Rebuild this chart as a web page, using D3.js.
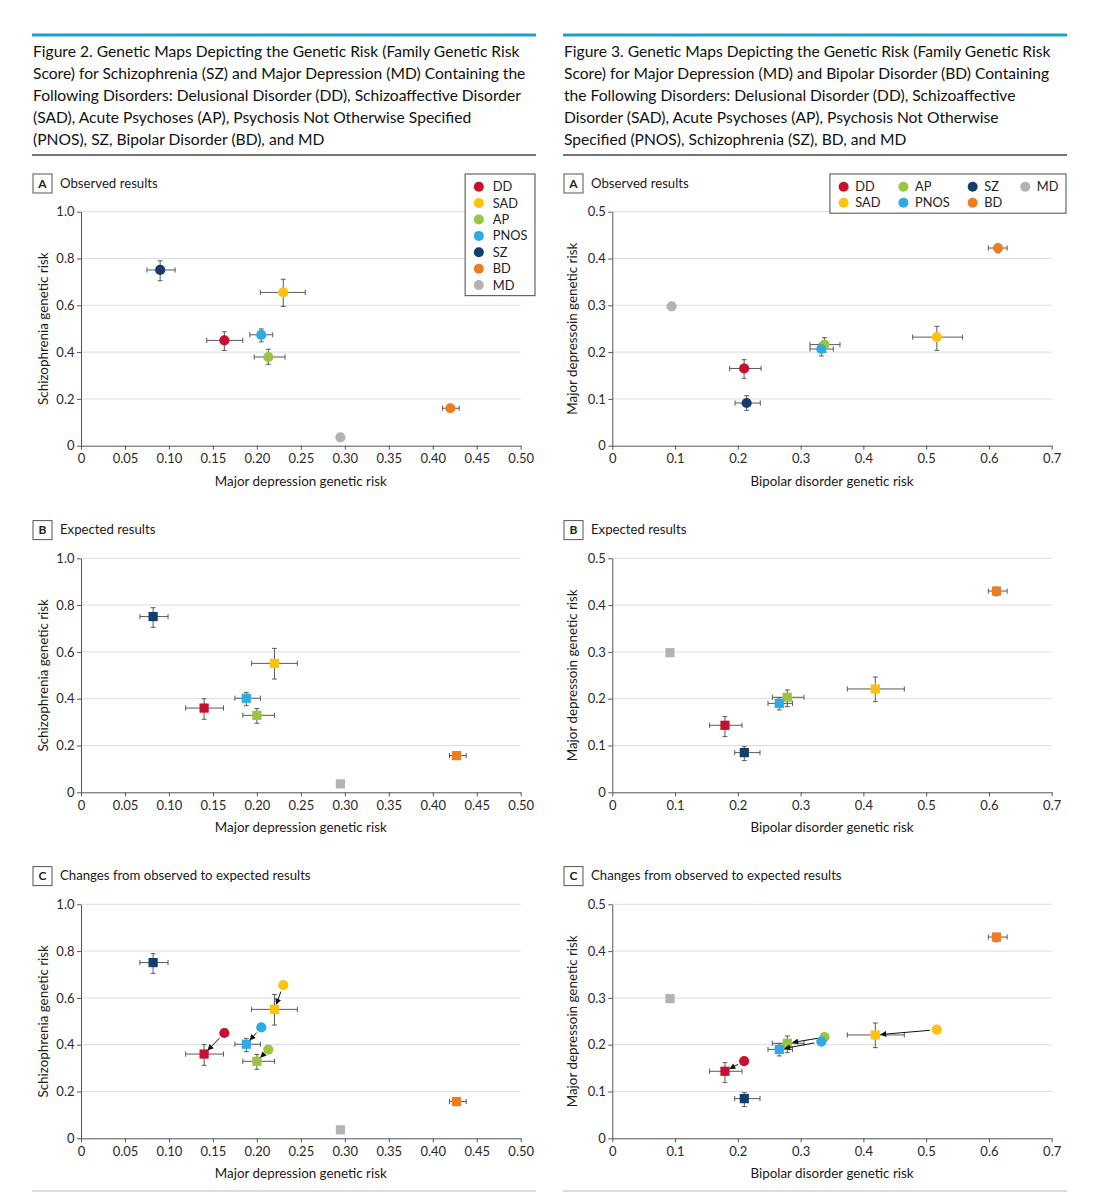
<!DOCTYPE html>
<html>
<head>
<meta charset="utf-8">
<script src="https://cdn.jsdelivr.net/npm/d3@7"></script>
<style>
  body { margin: 0; background: #fff; }
  text { font-family: Lato, "Noto Sans", sans-serif; }
</style>
</head>
<body>
<svg id="chart" width="1101" height="1200"></svg>
<script>
// values
const disorders = ["DD", "SAD", "AP", "PNOS", "SZ", "BD", "MD"]
const disorderColors = ["#c8102e", "#fdc20f", "#9bc440", "#2eabe2", "#123d6d", "#ee7d22", "#b5b3b0"]
const movedDisorders = ["DD", "SAD", "AP", "PNOS"]

// Figure 2: x = major depression genetic risk, y = schizophrenia genetic risk
const fig2ObsX = [0.163, 0.230, 0.213, 0.205, 0.090, 0.420, 0.295]
const fig2ObsY = [0.450, 0.655, 0.379, 0.474, 0.751, 0.160, 0.036]
const fig2ObsXLow = [0.143, 0.204, 0.197, 0.192, 0.075, 0.411, null]
const fig2ObsXHigh = [0.184, 0.255, 0.232, 0.218, 0.107, 0.430, null]
const fig2ObsYLow = [0.407, 0.595, 0.348, 0.444, 0.705, null, null]
const fig2ObsYHigh = [0.487, 0.711, 0.412, 0.499, 0.790, null, null]

const fig2ExpX = [0.140, 0.220, 0.200, 0.188, 0.082, 0.427, 0.295]
const fig2ExpY = [0.360, 0.551, 0.329, 0.402, 0.751, 0.157, 0.036]
const fig2ExpXLow = [0.119, 0.194, 0.184, 0.175, 0.067, 0.419, null]
const fig2ExpXHigh = [0.162, 0.246, 0.220, 0.204, 0.099, 0.438, null]
const fig2ExpYLow = [0.312, 0.484, 0.295, 0.370, 0.705, null, null]
const fig2ExpYHigh = [0.400, 0.615, 0.358, 0.427, 0.789, null, null]

const fig2XTicks = [0, 0.05, 0.10, 0.15, 0.20, 0.25, 0.30, 0.35, 0.40, 0.45, 0.50]
const fig2YTicks = [0, 0.2, 0.4, 0.6, 0.8, 1.0]

// Figure 3: x = bipolar disorder genetic risk, y = major depression genetic risk
const fig3ObsX = [0.210, 0.517, 0.338, 0.333, 0.214, 0.6145, 0.0945]
const fig3ObsY = [0.165, 0.232, 0.216, 0.2066, 0.0912, 0.4224, 0.2977]
const fig3ObsXLow = [0.187, 0.4785, 0.315, 0.315, 0.1955, 0.599, null]
const fig3ObsXHigh = [0.237, 0.558, 0.3627, 0.352, 0.2358, 0.629, null]
const fig3ObsYLow = [0.144, 0.2037, 0.200, 0.1916, 0.0755, 0.412, null]
const fig3ObsYHigh = [0.1838, 0.255, 0.2308, 0.219, 0.1068, 0.430, null]

const fig3ExpX = [0.1795, 0.419, 0.2788, 0.266, 0.2103, 0.612, 0.0919]
const fig3ExpY = [0.1432, 0.2208, 0.203, 0.190, 0.0848, 0.430, 0.2984]
const fig3ExpXLow = [0.155, 0.3744, 0.255, 0.248, 0.195, 0.599, null]
const fig3ExpXHigh = [0.2066, 0.4652, 0.3054, 0.287, 0.2353, 0.629, null]
const fig3ExpYLow = [0.119, 0.1937, 0.183, 0.176, 0.0677, 0.420, null]
const fig3ExpYHigh = [0.1617, 0.2464, 0.2187, 0.2023, 0.0976, 0.438, null]

const fig3XTicks = [0, 0.1, 0.2, 0.3, 0.4, 0.5, 0.6, 0.7]
const fig3YTicks = [0, 0.1, 0.2, 0.3, 0.4, 0.5]

const fig2Heading = [
    "Figure 2. Genetic Maps Depicting the Genetic Risk (Family Genetic Risk",
    "Score) for Schizophrenia (SZ) and Major Depression (MD) Containing the",
    "Following Disorders: Delusional Disorder (DD), Schizoaffective Disorder",
    "(SAD), Acute Psychoses (AP), Psychosis Not Otherwise Specified",
    "(PNOS), SZ, Bipolar Disorder (BD), and MD"
]
const fig3Heading = [
    "Figure 3. Genetic Maps Depicting the Genetic Risk (Family Genetic Risk",
    "Score) for Major Depression (MD) and Bipolar Disorder (BD) Containing",
    "the Following Disorders: Delusional Disorder (DD), Schizoaffective",
    "Disorder (SAD), Acute Psychoses (AP), Psychosis Not Otherwise",
    "Specified (PNOS), Schizophrenia (SZ), BD, and MD"
]
const panelLetters = ["A", "B", "C"]
const panelTitles = ["Observed results", "Expected results", "Changes from observed to expected results"]

function rows(xs, ys, xLow, xHigh, yLow, yHigh) {
    return disorders.map(function (name, i) {
        return { name: name, color: disorderColors[i], x: xs[i], y: ys[i], xLow: xLow[i], xHigh: xHigh[i], yLow: yLow[i], yHigh: yHigh[i] }
    })
}

const zeroOr = f => d => d === 0 ? "0" : d3.format(f)(d)

const figures = [
    {
        left: 32, right: 536, plotLeft: 81, plotRight: 520.7, yTitleX: 43.5,
        heading: fig2Heading,
        xDomain: [0, 0.5], yDomain: [0, 1], xTicks: fig2XTicks, yTicks: fig2YTicks,
        xFormat: zeroOr(".2f"), yFormat: zeroOr(".1f"),
        xTitle: "Major depression genetic risk", yTitle: "Schizophrenia genetic risk",
        legendRows: 7,
        obs: rows(fig2ObsX, fig2ObsY, fig2ObsXLow, fig2ObsXHigh, fig2ObsYLow, fig2ObsYHigh),
        exp: rows(fig2ExpX, fig2ExpY, fig2ExpXLow, fig2ExpXHigh, fig2ExpYLow, fig2ExpYHigh)
    },
    {
        left: 563, right: 1067, plotLeft: 612.3, plotRight: 1051.7, yTitleX: 572,
        heading: fig3Heading,
        xDomain: [0, 0.7], yDomain: [0, 0.5], xTicks: fig3XTicks, yTicks: fig3YTicks,
        xFormat: zeroOr(".1f"), yFormat: zeroOr(".1f"),
        xTitle: "Bipolar disorder genetic risk", yTitle: "Major depressoin genetic risk",
        legendRows: 2,
        obs: rows(fig3ObsX, fig3ObsY, fig3ObsXLow, fig3ObsXHigh, fig3ObsYLow, fig3ObsYHigh),
        exp: rows(fig3ExpX, fig3ExpY, fig3ExpXLow, fig3ExpXHigh, fig3ExpYLow, fig3ExpYHigh)
    }
]

const svg = d3.select("#chart")
const panelTops = [211.7, 558.3, 904.3]
const plotHeight = 234

svg.append("defs").append("marker")
    .attr("id", "arrowHead")
    .attr("viewBox", "0 0 10 10")
    .attr("refX", 9).attr("refY", 5)
    .attr("markerWidth", 7).attr("markerHeight", 6)
    .attr("markerUnits", "userSpaceOnUse")
    .attr("orient", "auto")
    .append("path")
    .attr("d", "M0,0L10,5L0,10z")
    .attr("fill", "#111")

// heading font size: fit the first line to the width it has in the print
var probe = svg.append("text").style("font-size", "16px").text(fig2Heading[0])
var headingSize = 16 * 487 / probe.node().getComputedTextLength()
probe.remove()

function drawHeading(fig) {
    svg.append("rect")
        .attr("x", fig.left).attr("y", 33.5)
        .attr("width", fig.right - fig.left).attr("height", 3)
        .attr("fill", "#1c9dd3")
    svg.append("g").selectAll("text")
        .data(fig.heading).enter().append("text")
        .attr("x", fig.left + 1)
        .attr("y", (d, i) => 56.5 + i * 22)
        .style("font-size", headingSize + "px")
        .style("fill", "#111")
        .text(d => d)
    svg.append("line")
        .attr("x1", fig.left).attr("x2", fig.right)
        .attr("y1", 155).attr("y2", 155)
        .style("stroke", "#444").style("stroke-width", 1.5)
    svg.append("line")
        .attr("x1", fig.left).attr("x2", fig.right)
        .attr("y1", 1191).attr("y2", 1191)
        .style("stroke", "#b8b8b8").style("stroke-width", 1)
}

function errorBars(g, pts, x, y) {
    g.selectAll("xerr")
        .data(pts.filter(d => d.xLow != null)).enter()
        .append("path")
        .attr("d", d => "M" + x(d.xLow) + "," + y(d.y) + "H" + x(d.xHigh)
            + "M" + x(d.xLow) + "," + (y(d.y) - 2.6) + "v5.2"
            + "M" + x(d.xHigh) + "," + (y(d.y) - 2.6) + "v5.2")
        .style("stroke", "#5a5a5a").style("stroke-width", 1).style("fill", "none")
    g.selectAll("yerr")
        .data(pts.filter(d => d.yLow != null)).enter()
        .append("path")
        .attr("d", d => "M" + x(d.x) + "," + y(d.yLow) + "V" + y(d.yHigh)
            + "M" + (x(d.x) - 2.4) + "," + y(d.yLow) + "h4.8"
            + "M" + (x(d.x) - 2.4) + "," + y(d.yHigh) + "h4.8")
        .style("stroke", "#5a5a5a").style("stroke-width", 1).style("fill", "none")
}

function circles(g, pts, x, y) {
    g.selectAll("dot")
        .data(pts).enter().append("circle")
        .attr("cx", d => x(d.x)).attr("cy", d => y(d.y))
        .attr("r", 5.1)
        .style("fill", d => d.color)
}

function squares(g, pts, x, y) {
    g.selectAll("sq")
        .data(pts).enter().append("rect")
        .attr("x", d => x(d.x) - 4.6).attr("y", d => y(d.y) - 4.6)
        .attr("width", 9.2).attr("height", 9.2)
        .style("fill", d => d.color)
}

function drawLegend(fig, top) {
    var lg = svg.append("g")
    var rowsN = fig.legendRows
    var items = lg.selectAll("item").data(disorders).enter().append("g")
    items.append("circle").attr("r", 5).style("fill", (d, i) => disorderColors[i])
    items.append("text").attr("dy", "0.35em")
        .style("font-size", "12.8px").style("fill", "#222")
        .text(d => d)
    // column widths come from the widest label in each column
    var widths = []
    items.select("text").each(function (d, i) {
        var c = Math.floor(i / rowsN)
        widths[c] = Math.max(widths[c] || 0, this.getComputedTextLength())
    })
    var gapText = rowsN > 2 ? 14 : 11.6
    var colX = [13.7]
    for (var c = 1; c < widths.length; c++) colX[c] = colX[c - 1] + gapText + widths[c - 1] + 23
    var boxW = colX[widths.length - 1] + gapText + widths[widths.length - 1] + 7.5
    var boxH = 12.7 + (rowsN - 1) * (rowsN > 2 ? 16.4 : 16) + 10.5
    var bx = fig.right - 1 - boxW
    var by = top - 37.7
    items.attr("transform", function (d, i) {
        var c = Math.floor(i / rowsN), r = i % rowsN
        return "translate(" + (bx + colX[c]) + "," + (by + 12.7 + r * (rowsN > 2 ? 16.4 : 16)) + ")"
    })
    items.select("text").attr("x", gapText)
    lg.insert("rect", ":first-child")
        .attr("x", bx).attr("y", by)
        .attr("width", boxW).attr("height", boxH)
        .style("fill", "white").style("stroke", "#666").style("stroke-width", 1.2)
}

function drawPanel(fig, p) {
    var top = panelTops[p]
    var x = d3.scaleLinear().domain(fig.xDomain).range([fig.plotLeft, fig.plotRight])
    var y = d3.scaleLinear().domain(fig.yDomain).range([top + plotHeight, top])
    var g = svg.append("g")

    // panel letter and title
    g.append("rect")
        .attr("x", fig.left + 1).attr("y", top - 37.7)
        .attr("width", 19).attr("height", 19)
        .style("fill", "white").style("stroke", "#555").style("stroke-width", 1)
    g.append("text")
        .attr("x", fig.left + 10.5).attr("y", top - 28.2).attr("dy", "0.36em")
        .style("text-anchor", "middle").style("font-size", "12px").style("font-weight", "bold")
        .style("fill", "#222")
        .text(panelLetters[p])
    g.append("text")
        .attr("x", fig.left + 28).attr("y", top - 24)
        .style("font-size", "13.2px").style("fill", "#1a1a1a")
        .text(panelTitles[p])

    // gridlines
    g.selectAll("grid")
        .data(fig.yTicks.filter(d => d > 0)).enter().append("line")
        .attr("x1", fig.plotLeft).attr("x2", fig.plotRight)
        .attr("y1", d => y(d)).attr("y2", d => y(d))
        .style("stroke", "#dcdcdc").style("stroke-width", 1)

    var xAxis = g.append("g")
        .attr("transform", "translate(0," + (top + plotHeight) + ")")
        .call(d3.axisBottom(x).tickValues(fig.xTicks).tickFormat(fig.xFormat).tickSize(4).tickSizeOuter(0).tickPadding(4))
    var yAxis = g.append("g")
        .attr("transform", "translate(" + fig.plotLeft + ",0)")
        .call(d3.axisLeft(y).tickValues(fig.yTicks).tickFormat(fig.yFormat).tickSize(4).tickSizeOuter(0).tickPadding(2.5))
    for (const ax of [xAxis, yAxis]) {
        ax.selectAll("path, line").style("stroke", "#555")
        ax.selectAll("text").style("font-size", "13px").style("fill", "#2a2a2a")
            .style("font-family", "Lato, 'Noto Sans', sans-serif")
    }

    g.append("text")
        .attr("x", (fig.plotLeft + fig.plotRight) / 2).attr("y", top + plotHeight + 40)
        .style("text-anchor", "middle").style("font-size", "13.4px").style("fill", "#1a1a1a")
        .text(fig.xTitle)
    g.append("text")
        .attr("transform", "translate(" + fig.yTitleX + "," + (top + plotHeight / 2) + ") rotate(-90)")
        .attr("dy", "0.35em")
        .style("text-anchor", "middle").style("font-size", "13.4px").style("fill", "#1a1a1a")
        .text(fig.yTitle)

    if (p == 0) {
        errorBars(g, fig.obs, x, y)
        circles(g, fig.obs, x, y)
        drawLegend(fig, top)
    }
    else if (p == 1) {
        errorBars(g, fig.exp, x, y)
        squares(g, fig.exp, x, y)
    }
    else {
        var moved = fig.obs.filter(d => movedDisorders.includes(d.name))
        errorBars(g, fig.exp, x, y)
        squares(g, fig.exp, x, y)
        circles(g, moved, x, y)
        // arrows from observed circle to expected square
        g.selectAll("arrow")
            .data(moved).enter().append("line")
            .each(function (d) {
                var e = fig.exp.find(o => o.name == d.name)
                var x1 = x(d.x), y1 = y(d.y), x2 = x(e.x), y2 = y(e.y)
                var len = Math.hypot(x2 - x1, y2 - y1)
                var ux = (x2 - x1) / len, uy = (y2 - y1) / len
                d3.select(this)
                    .attr("x1", x1 + ux * 7).attr("y1", y1 + uy * 7)
                    .attr("x2", x2 - ux * 5.5).attr("y2", y2 - uy * 5.5)
            })
            .style("stroke", "#111").style("stroke-width", 1)
            .attr("marker-end", "url(#arrowHead)")
    }
}

figures.forEach(function (fig) {
    drawHeading(fig)
    for (var p = 0; p < 3; p++) drawPanel(fig, p)
})
</script>
</body>
</html>
